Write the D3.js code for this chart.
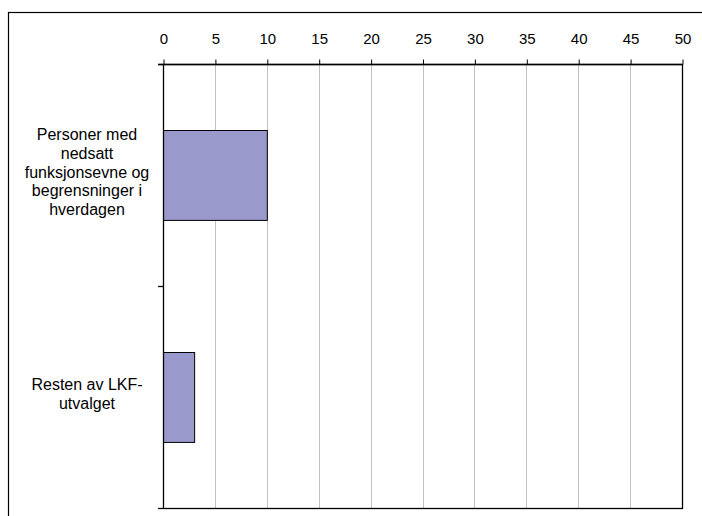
<!DOCTYPE html>
<html>
<head>
<meta charset="utf-8">
<script src="https://cdn.jsdelivr.net/npm/d3@7"></script>
<style>
  html, body { margin: 0; padding: 0; background: #fff; }
  svg { display: block; }
  text { font-family: "Liberation Sans", Arial, sans-serif; fill: #000; }
</style>
</head>
<body>
<svg id="chart" width="702" height="516"></svg>
<script>
const categories = [
  ["Personer med", "nedsatt", "funksjonsevne og", "begrensninger i", "hverdagen"],
  ["Resten av LKF-", "utvalget"]
];
const values = [10, 3];
const tickValues = [0, 5, 10, 15, 20, 25, 30, 35, 40, 45, 50];

(function () {
const svg = d3.select("#chart");
const pLeft = 163, pRight = 682, pTop = 64, pBottom = 508;

// outer frame
svg.append("rect")
  .attr("x", 8.5).attr("y", 12.5)
  .attr("width", 800).attr("height", 700)
  .attr("fill", "none").attr("stroke", "#000").attr("stroke-width", 1.2);

const x = d3.scaleLinear().domain([0, 50]).range([pLeft, pRight]);
const y = d3.scaleBand().domain(d3.range(categories.length)).range([pTop, pBottom]).paddingInner(0.595).paddingOuter(0.2975);

// gridlines
svg.append("g")
  .selectAll("line").data(tickValues.slice(1)).join("line")
  .attr("x1", d => Math.round(x(d)) + 0.5).attr("x2", d => Math.round(x(d)) + 0.5)
  .attr("y1", pTop).attr("y2", pBottom)
  .attr("stroke", "#c0c0c0").attr("stroke-width", 1);

// bars
svg.append("g")
  .selectAll("rect").data(values).join("rect")
  .attr("x", x(0) + 0.5)
  .attr("y", (d, i) => Math.round(y(i)) + 0.5)
  .attr("width", d => x(d) - x(0))
  .attr("height", y.bandwidth())
  .attr("fill", "#9999cc")
  .attr("stroke", "#000").attr("stroke-width", 1);

// plot frame
svg.append("rect")
  .attr("x", pLeft + 0.5).attr("y", pTop + 0.5)
  .attr("width", pRight - pLeft).attr("height", pBottom - pTop)
  .attr("fill", "none").attr("stroke", "#000").attr("stroke-width", 1.3);

// top axis
const xAxis = d3.axisTop(x).tickValues(tickValues).tickSize(5).tickPadding(16).tickSizeOuter(5);
const gx = svg.append("g").attr("transform", `translate(0.5,${pTop + 0.5})`).call(xAxis);
gx.select(".domain").attr("stroke", "#000").attr("stroke-width", 1.3).attr("d", `M${pLeft - 5},0H${pRight}`);
gx.selectAll(".tick line").attr("stroke", "#000");
gx.selectAll(".tick text").attr("font-size", 15).attr("font-family", "'Liberation Sans', Arial, sans-serif");

// category axis ticks (boundaries)
const bounds = [pTop, (pTop + pBottom) / 2, pBottom];
svg.append("g").selectAll("line").data(bounds).join("line")
  .attr("x1", pLeft - 5).attr("x2", pLeft)
  .attr("y1", d => Math.round(d) + 0.5).attr("y2", d => Math.round(d) + 0.5)
  .attr("stroke", "#000").attr("stroke-width", 1.3);

// category labels
const lineH = 18.7;
const labelX = 87;
categories.forEach((lines, i) => {
  const cy = y(i) + y.bandwidth() / 2 - 3;
  const t = svg.append("text")
    .attr("text-anchor", "middle")
    .attr("font-size", 16);
  lines.forEach((ln, j) => {
    t.append("tspan")
      .attr("x", labelX)
      .attr("y", cy + (j - (lines.length - 1) / 2) * lineH)
      .attr("dy", "0.35em")
      .text(ln);
  });
});
})();
</script>
</body>
</html>
